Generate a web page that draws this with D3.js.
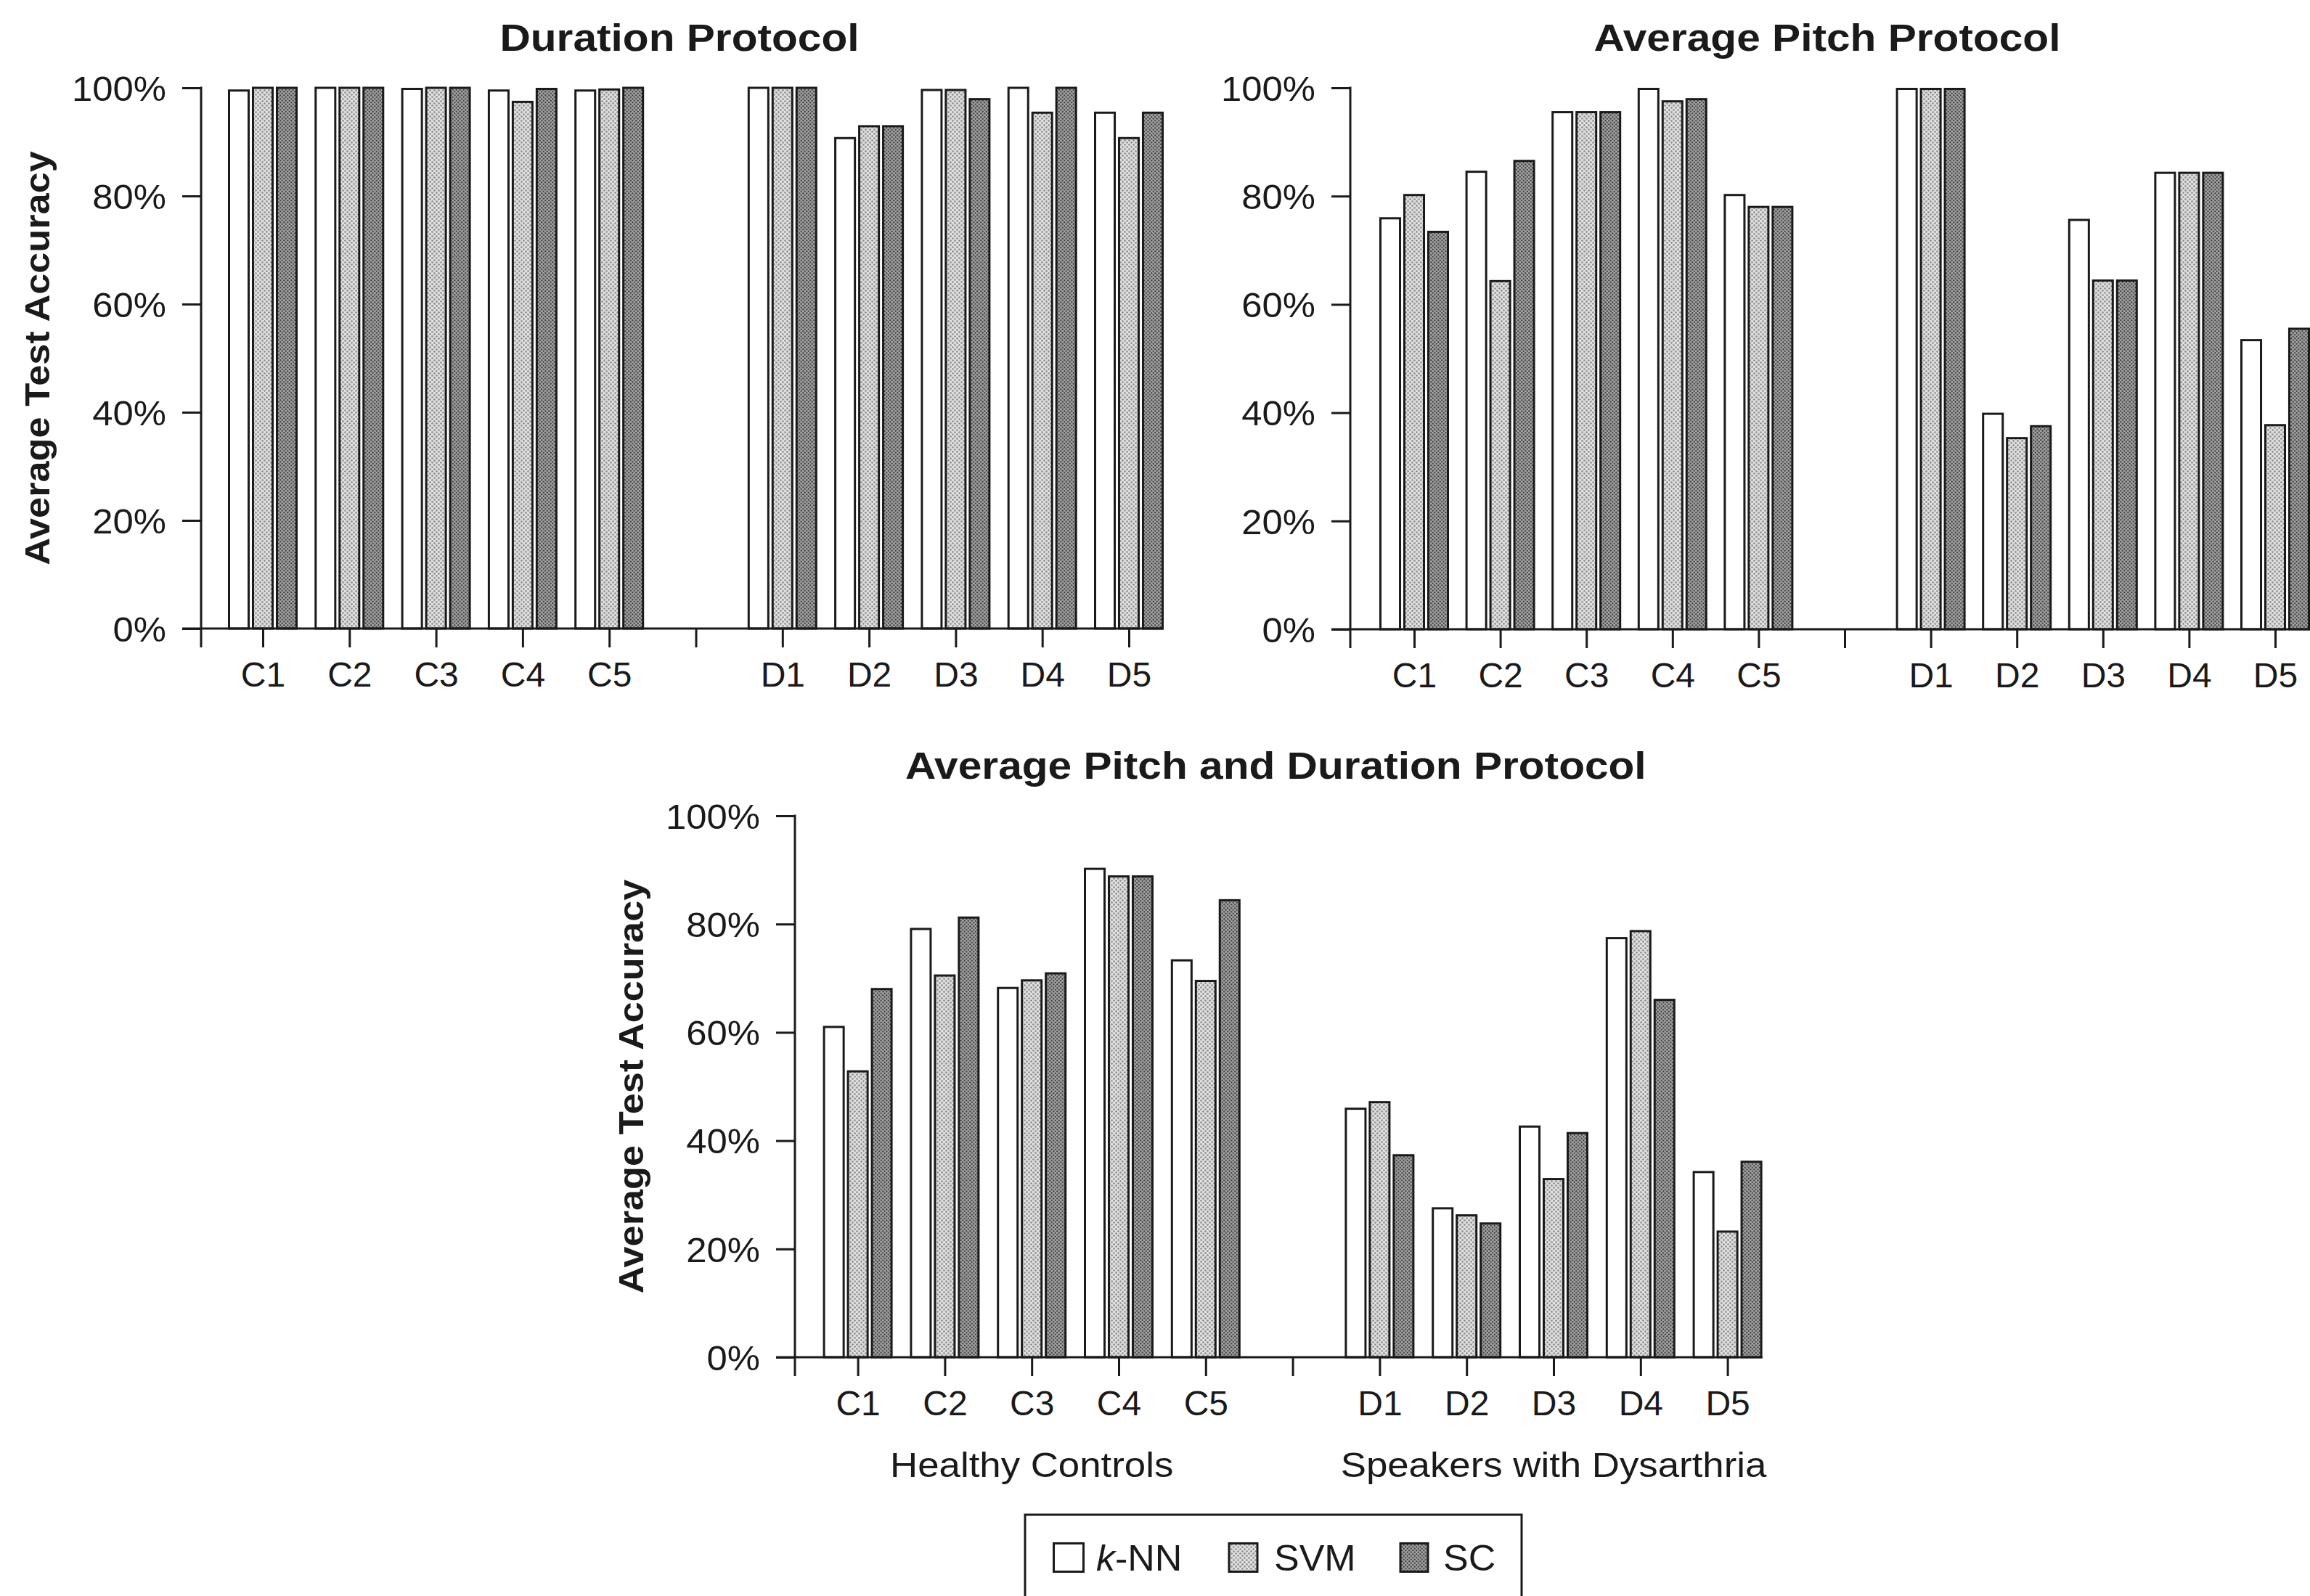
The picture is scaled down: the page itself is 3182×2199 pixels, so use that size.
<!DOCTYPE html>
<html><head><meta charset="utf-8">
<script src="https://cdn.jsdelivr.net/npm/d3@7"></script>
<style>html,body{margin:0;padding:0;background:#fff;overflow:hidden;} svg{display:block;}</style>
</head><body>
<svg id="chart" width="3182" height="2199"></svg>
<script>
// ---------- data ----------
const categories = ["C1","C2","C3","C4","C5","D1","D2","D3","D4","D5"];
const slots = ["C1","C2","C3","C4","C5","gap","D1","D2","D3","D4","D5"];
const series = ["k-NN","SVM","SC"];
const yTicks = [0,20,40,60,80,100];
const titles = ["Duration Protocol","Average Pitch Protocol","Average Pitch and Duration Protocol"];
const yAxisLabel = "Average Test Accuracy";
const groupLabels = ["Healthy Controls","Speakers with Dysarthria"];

const durationKNN = [99.5,100,99.8,99.5,99.5,100,90.7,99.6,100,95.4];
const durationSVM = [100,100,100,97.4,99.7,100,92.9,99.6,95.4,90.7];
const durationSC  = [100,100,100,99.8,100,100,92.9,97.9,100,95.4];

const pitchKNN = [75.9,84.5,95.5,99.8,80.2,99.8,39.8,75.6,84.3,53.4];
const pitchSVM = [80.2,64.3,95.5,97.5,78.0,99.8,35.3,64.4,84.3,37.7];
const pitchSC  = [73.4,86.5,95.5,97.9,78.0,99.8,37.5,64.4,84.3,55.5];

const bothKNN = [61.0,79.1,68.2,90.2,73.3,45.9,27.5,42.6,77.4,34.2];
const bothSVM = [52.8,70.5,69.6,88.8,69.5,47.1,26.2,32.9,78.7,23.2];
const bothSC  = [68.0,81.2,70.9,88.8,84.4,37.3,24.7,41.4,66.0,36.1];

// ---------- drawing ----------
const svg = d3.select("#chart");
const FONT = "'Liberation Sans', Arial, Helvetica, sans-serif";
const INK = "#1a1a1a";

const defs = svg.append("defs");
function dotPattern(id, size, bg, dot, r){
  const p = defs.append("pattern").attr("id", id).attr("patternUnits","userSpaceOnUse")
    .attr("width", size).attr("height", size);
  p.append("rect").attr("width", size).attr("height", size).attr("fill", bg);
  p.append("circle").attr("cx", size*0.25).attr("cy", size*0.25).attr("r", r).attr("fill", dot);
  p.append("circle").attr("cx", size*0.75).attr("cy", size*0.75).attr("r", r).attr("fill", dot);
}
dotPattern("patSVM", 6, "#dedede", "#8a8a8a", 1.3);
dotPattern("patSC", 5, "#a2a2a2", "#4a4a4a", 1.2);
const fills = {"k-NN":"#ffffff","SVM":"url(#patSVM)","SC":"url(#patSC)"};

function txt(g, o){
  const t = g.append("text")
    .attr("transform", `translate(${o.x},${o.y})` + (o.rot ? ` rotate(${o.rot})` : "") + ` scale(${o.sx||1},1)`)
    .attr("text-anchor", o.anchor || "middle")
    .attr("font-family", FONT)
    .attr("font-size", o.size)
    .attr("font-weight", o.weight || "normal")
    .attr("fill", INK);
  if (o.parts){
    o.parts.forEach(p => t.append("tspan").attr("font-style", p.italic ? "italic" : "normal").text(p.t));
  } else t.text(o.text);
  return t;
}

const panels = [
  {title: titles[0], data:[durationKNN,durationSVM,durationSC], axisX:277, firstX:362, lastX:1555, top:121, bottom:866, yLabel:true, groups:false},
  {title: titles[1], data:[pitchKNN,pitchSVM,pitchSC], axisX:1860, firstX:1948, lastX:3134, top:121, bottom:867, yLabel:false, groups:false},
  {title: titles[2], data:[bothKNN,bothSVM,bothSC], axisX:1095, firstX:1181.6, lastX:2379.6, top:1124, bottom:1870, yLabel:true, groups:true}
];

const TICK = 26, SW = 3;

panels.forEach(P => {
  const g = svg.append("g");
  const x = d3.scalePoint().domain(slots).range([P.firstX, P.lastX]);
  const inner = d3.scaleBand().domain(series).range([-46.5, 46.5]).paddingInner(0.18);
  const y = d3.scaleLinear().domain([0,100]).range([P.bottom, P.top]);
  const rightEnd = P.lastX + 48;

  // bars
  series.forEach((s, si) => {
    g.append("g").selectAll("rect").data(categories.map((c,i)=>({c, v:P.data[si][i]})))
      .join("rect")
      .attr("x", d => x(d.c) + inner(s))
      .attr("y", d => y(d.v))
      .attr("width", inner.bandwidth())
      .attr("height", d => y(0) - y(d.v))
      .attr("fill", fills[s])
      .attr("stroke", INK).attr("stroke-width", SW);
  });

  // y axis
  const ya = g.append("g").attr("transform", `translate(${P.axisX},0)`)
    .call(d3.axisLeft(y).tickValues(yTicks).tickFormat(d => d + "%").tickSize(TICK).tickSizeOuter(0).tickPadding(22));
  ya.select(".domain").remove();
  ya.selectAll(".tick line").attr("stroke", INK).attr("stroke-width", SW);
  ya.selectAll(".tick text").attr("font-family", FONT).attr("font-size", 48).attr("fill", INK).attr("dy", "0.36em")
    .attr("x", 0).attr("transform", `translate(${-(TICK + 22)},0) scale(1.06,1)`);
  g.append("line").attr("x1", P.axisX).attr("x2", P.axisX).attr("y1", y(100) - 1.5).attr("y2", y(0) + TICK)
    .attr("stroke", INK).attr("stroke-width", SW);

  // x axis
  const xa = g.append("g").attr("transform", `translate(0,${P.bottom})`)
    .call(d3.axisBottom(x).tickSize(TICK).tickSizeOuter(0).tickPadding(18).tickFormat(d => d === "gap" ? "" : d));
  xa.select(".domain").remove();
  xa.selectAll(".tick line").attr("stroke", INK).attr("stroke-width", SW);
  xa.selectAll(".tick text").attr("font-family", FONT).attr("font-size", 48).attr("fill", INK).attr("dy", "0.75em");
  g.append("line").attr("x1", P.axisX - TICK).attr("x2", rightEnd).attr("y1", P.bottom).attr("y2", P.bottom)
    .attr("stroke", INK).attr("stroke-width", SW);

  // title
  txt(g, {x: (P.axisX + rightEnd)/2 - 4, y: P.top - 69 + 18, text: P.title, size: 51, weight: "bold", sx: 1.15});

  // y label
  if (P.yLabel) {
    txt(g, {x: P.axisX - 226 + 17, y: (P.top + P.bottom)/2, text: yAxisLabel, size: 48, weight: "bold", rot: -90, sx: 1.09});
  }
  // group labels
  if (P.groups) {
    txt(g, {x: x("C3"), y: P.bottom + 148 + 17, text: groupLabels[0], size: 48, sx: 1.1});
    txt(g, {x: x("D3"), y: P.bottom + 148 + 17, text: groupLabels[1], size: 48, sx: 1.1});
  }
});

// legend
const lg = svg.append("g");
lg.append("rect").attr("x", 1412).attr("y", 2087).attr("width", 684).attr("height", 160)
  .attr("fill", "#fff").attr("stroke", INK).attr("stroke-width", SW);
const legendItems = [
  {s:"k-NN", sw:1451.5, w:41, tx:1510, parts:[{t:"k", italic:true},{t:"-NN"}]},
  {s:"SVM", sw:1693, w:39, tx:1755, parts:[{t:"SVM"}]},
  {s:"SC", sw:1929, w:38, tx:1988, parts:[{t:"SC"}]}
];
legendItems.forEach(it => {
  lg.append("rect").attr("x", it.sw).attr("y", 2126.5).attr("width", it.w).attr("height", 39)
    .attr("fill", fills[it.s]).attr("stroke", INK).attr("stroke-width", SW);
  txt(lg, {x: it.tx, y: 2147 + 17, parts: it.parts, size: 50, anchor: "start", sx: 1.04});
});
</script>
</body></html>
